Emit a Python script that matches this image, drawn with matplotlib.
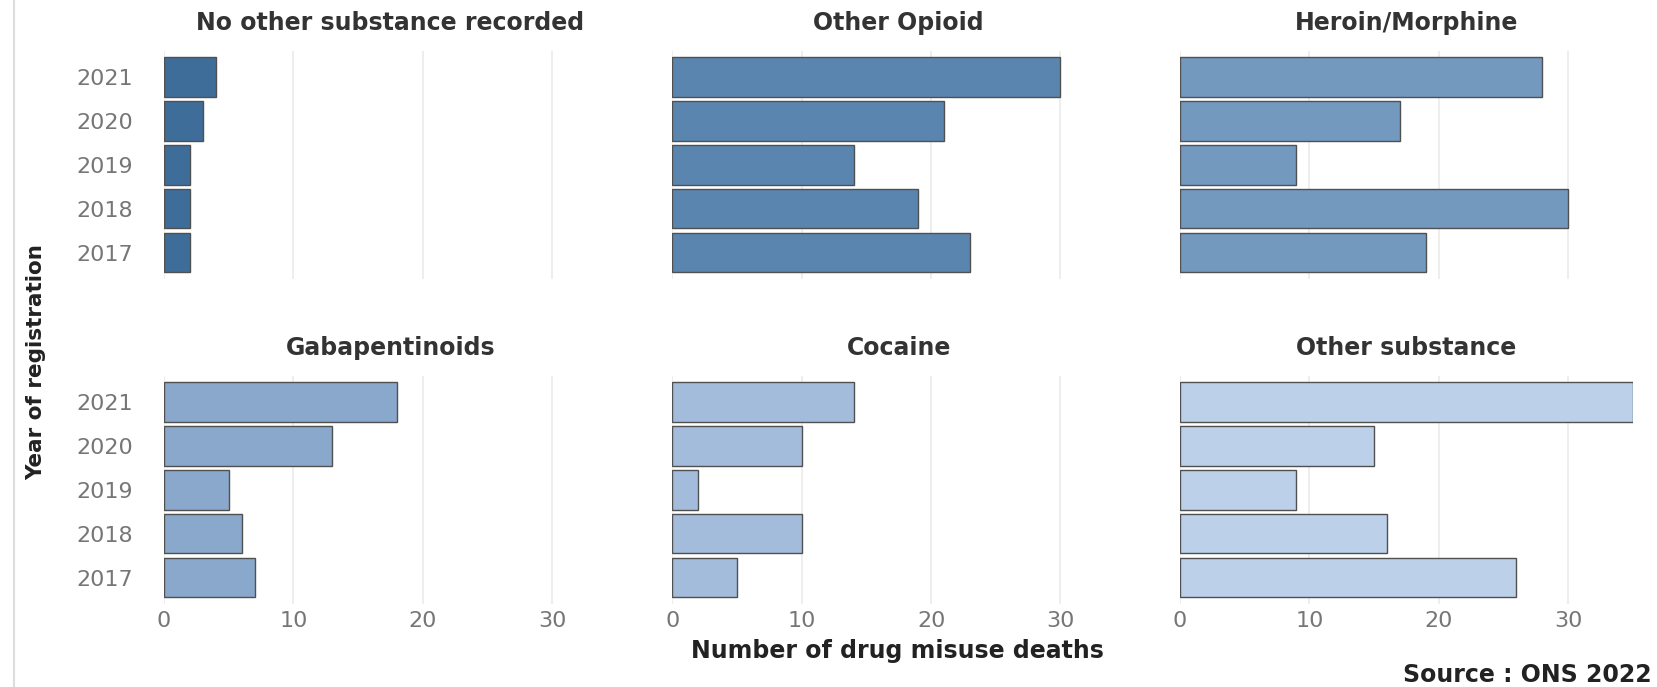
import matplotlib
matplotlib.use("Agg")
from matplotlib import pyplot as plt
from matplotlib.lines import Line2D

years = ["2017", "2018", "2019", "2020", "2021"]

panels = ["No other substance recorded", "Other Opioid", "Heroin/Morphine",
          "Gabapentinoids", "Cocaine", "Other substance"]

no_other = [2, 2, 2, 3, 4]
other_opioid = [23, 19, 14, 21, 30]
heroin = [19, 30, 9, 17, 28]
gabapentinoids = [7, 6, 5, 13, 18]
cocaine = [5, 10, 2, 10, 14]
other_substance = [26, 16, 9, 15, 35]

values = [no_other, other_opioid, heroin, gabapentinoids, cocaine, other_substance]
colours = ["#3f6d99", "#5a85ae", "#7399bf", "#89a8cb", "#a3bcdc", "#bcd0ea"]

plt.rcParams['font.family'] = ['DejaVu Sans']

fig = plt.figure(figsize=(16.58, 6.87), dpi=100)

lefts = [0.0989, 0.4056, 0.7117]
width = 0.273
bottoms = [0.594, 0.121]
height = 0.332

for i, (name, vals, col) in enumerate(zip(panels, values, colours)):
    row, c = divmod(i, 3)
    ax = fig.add_axes([lefts[c], bottoms[row], width, height])
    ax.barh(range(len(years)), vals, height=0.9, color=col,
            edgecolor="#505050", linewidth=1.0, zorder=3)
    ax.set_xlim(0, 35)
    ax.set_ylim(-0.6, len(years) - 0.4)
    ax.set_xticks([0, 10, 20, 30])
    ax.grid(axis="x", color="#ebebeb", linewidth=1.2, zorder=0)
    ax.set_yticks(range(len(years)))
    for s in ax.spines.values():
        s.set_visible(False)
    ax.tick_params(length=0, labelsize=16, labelcolor="#767676")
    ax.tick_params(axis="y", pad=22)
    ax.tick_params(axis="x", pad=5)
    if c == 0:
        ax.set_yticklabels(years)
    else:
        ax.set_yticklabels([])
    if row == 0:
        ax.set_xticklabels([])
    ax.set_title(name, fontsize=17, fontweight="bold", color="#333333", pad=15)

fig.text(0.541, 0.052, "Number of drug misuse deaths", ha="center", va="center",
         fontsize=17, fontweight="bold", color="#222222")
fig.text(0.022, 0.473, "Year of registration", ha="center", va="center",
         rotation=90, fontsize=15.5, fontweight="bold", color="#222222")
fig.text(0.996, 0.0175, "Source : ONS 2022", ha="right", va="center",
         fontsize=17, fontweight="bold", color="#222222")

fig.add_artist(Line2D([0.0083, 0.0083], [0, 1], color="#dddddd", linewidth=1.5,
                      transform=fig.transFigure))

fig.savefig("out.png", dpi=100)
